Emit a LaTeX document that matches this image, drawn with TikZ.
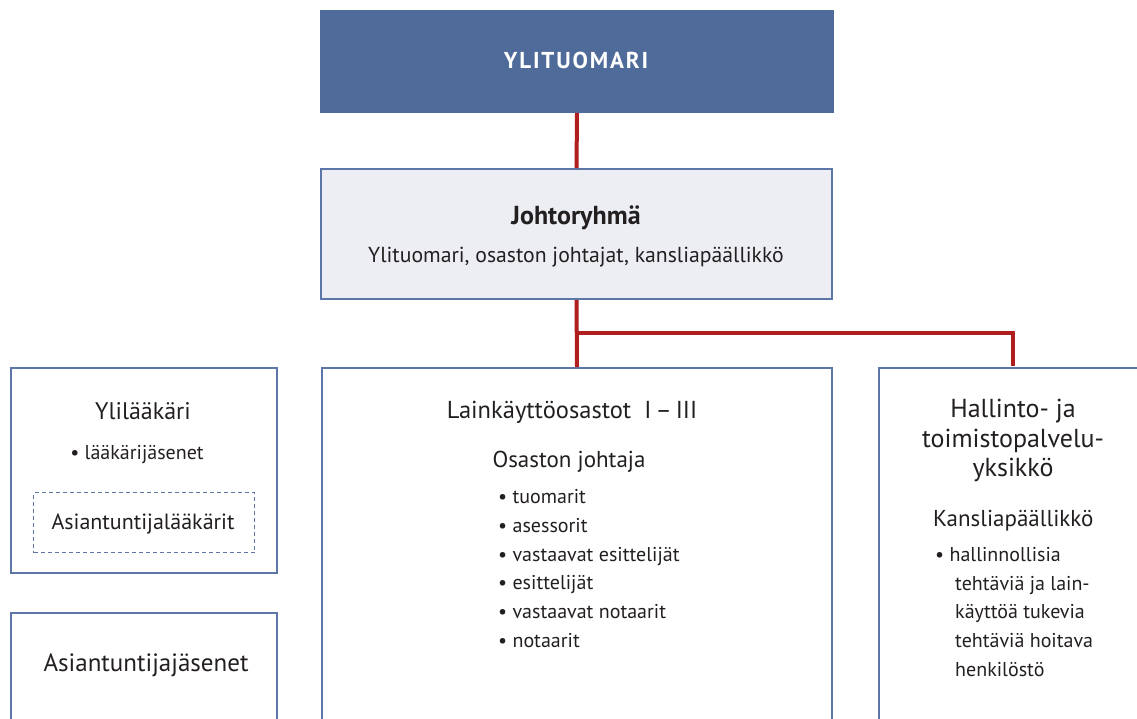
\documentclass[tikz,border=0pt]{standalone}
\usepackage{fontspec}
\setmainfont{PT Sans}
\definecolor{topblue}{HTML}{4F6B99}
\definecolor{edge}{HTML}{5B76A7}
\definecolor{lite}{HTML}{EDEEF3}
\definecolor{redl}{HTML}{B01E1E}
\definecolor{txt}{HTML}{231F20}
\begin{document}
\begin{tikzpicture}[x=1pt,y=-1pt,
  box/.style={draw=edge, line width=2pt, rectangle, inner sep=0pt, anchor=north west},
  conn/.style={draw=redl, line width=4pt},
  lbl/.style={text=txt, inner sep=0pt, anchor=mid, yshift=-4pt, font=\fontsize{#1}{#1}\selectfont},
  lbl/.default=20,
  item/.style={text=txt, inner sep=0pt, anchor=mid west, yshift=-4pt, font=\fontsize{20}{20}\selectfont}]
\clip (0,0) rectangle (1137,718);
\fill[white] (0,0) rectangle (1137,718);
% boxes
\node[box, fill=topblue, draw=topblue, minimum width=512pt, minimum height=101pt] (ylit) at (320,10) {};
\node[box, fill=lite, minimum width=511pt, minimum height=130pt] (johto) at (320,168) {};
\node[box, minimum width=266pt, minimum height=205pt] (ylil) at (10,367) {};
\node[box, dashed, line width=1.2pt, dash pattern=on 4pt off 3pt, minimum width=221pt, minimum height=60pt] (asl) at (33,492) {};
\node[box, minimum width=266pt, minimum height=160pt] (asj) at (10,612) {};
\node[box, minimum width=510pt, minimum height=400pt] (mid) at (321,367) {};
\node[box, minimum width=300pt, minimum height=400pt] (hal) at (878,367) {};
% connectors
\coordinate (br) at (576,333);
\coordinate (rtop) at (1013,366);
\draw[conn] (ylit.south) -- (johto.north);
\draw[conn] (johto.south) -- (mid.north);
\draw[conn] (br) -| (rtop);
% texts
\node[lbl, text=white, font=\fontsize{23}{23}\bfseries\addfontfeatures{LetterSpace=8}] (t1) at (576,62) {YLITUOMARI};
\node[lbl, font=\fontsize{26}{26}\bfseries] (t2) at (576,218) {Johtoryhmä};
\node[lbl=21.7] (t3) at (576,256) {Ylituomari, osaston johtajat, kansliapäällikkö};
\node[lbl=24] (t4) at (143,413) {Ylilääkäri};
\node[lbl=20] (t5) at (137,453) {• lääkärijäsenet};
\node[lbl=22] (t6) at (143,523) {Asiantuntijalääkärit};
\node[lbl=25] (t7) at (146,665) {Asiantuntijajäsenet};
\node[lbl=24.5] (t8) at (572,412) {Lainkäyttöosastot \ I\,–\,III};
\node[lbl=23] (t9) at (569,461) {Osaston johtaja};
\node[item] (i1) at (498,497) {• tuomarit};
\node[item] (i2) at (498,526) {• asessorit};
\node[item] (i3) at (498,555) {• vastaavat esittelijät};
\node[item] (i4) at (498,583) {• esittelijät};
\node[item] (i5) at (498,612) {• vastaavat notaarit};
\node[item] (i6) at (498,641) {• notaarit};
\node[lbl=26] (t10) at (1013,411) {Hallinto- ja};
\node[lbl=26] (t11) at (1013,441) {toimistopalvelu-};
\node[lbl=26] (t12) at (1013,470) {yksikkö};
\node[lbl=23, anchor=mid west] (t13) at (933,520) {Kansliapäällikkö};
\node[item] (r1) at (935,555) {• hallinnollisia};
\node[item] (r2) at (955,584) {tehtäviä ja lain-};
\node[item] (r3) at (955,612) {käyttöä tukevia};
\node[item] (r4) at (955,641) {tehtäviä hoitava};
\node[item] (r5) at (955,670) {henkilöstö};
\end{tikzpicture}
\end{document}
